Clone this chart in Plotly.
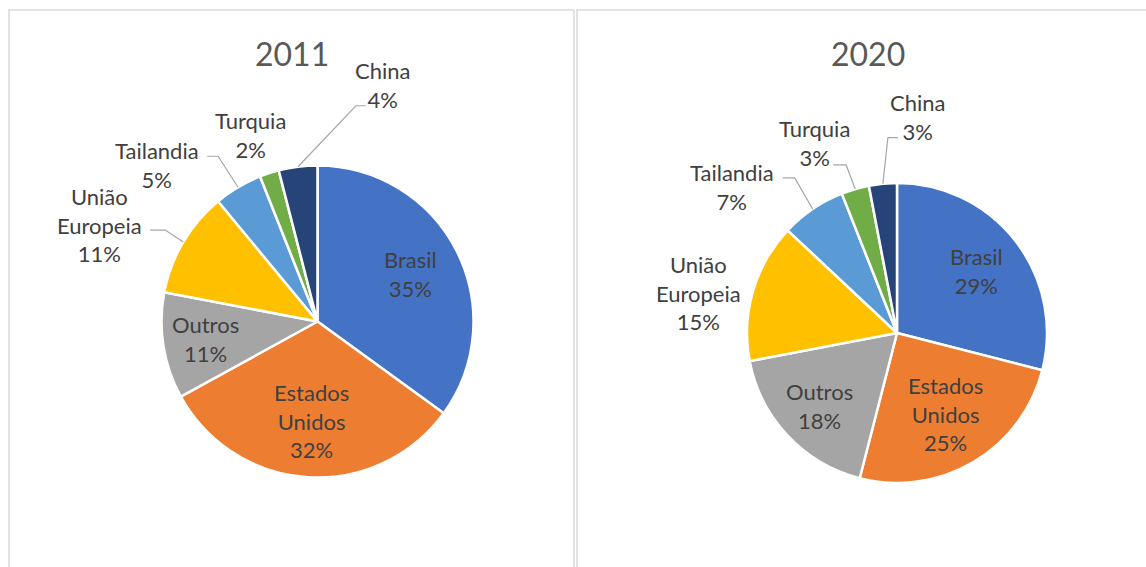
import math
import plotly.graph_objects as go

W, H = 1146, 567

# ---- data ----
categories = ["Brasil", "Estados Unidos", "Outros", "União Europeia", "Tailandia", "Turquia", "China"]
values_2011 = [35, 32, 11, 11, 5, 2, 4]
values_2020 = [29, 25, 18, 15, 7, 3, 3]
years = ["2011", "2020"]

colors = ["#4472C4", "#ED7D31", "#A5A5A5", "#FFC000", "#5B9BD5", "#70AD47", "#264478"]
TITLE_C = "#595959"
LABEL_C = "#404040"
FONT = "Lato"

# ---- layout / styling (pixel geometry) ----
pies = [
    dict(year=years[0], values=values_2011, cx=317.5, cy=321.5, r=156, title_x=291.5,
         inside_frac=[0.67, 0.64, 0.73],
         outside={
             3: dict(lab=(-84, -17), lead=((-18, -12), (-33, -12))),
             4: dict(lab=(-81, -22), lead=((-20, -31), (-31, -31))),
             5: dict(lab=(-19, -38), lead=None),
             6: dict(lab=(85, -82), lead=((58, -61), (68, -61))),
         }),
    dict(year=years[1], values=values_2020, cx=897, cy=333, r=150, title_x=868,
         inside_frac=[0.67, 0.63, 0.71],
         outside={
             3: dict(lab=(-54, 2), lead=None),
             4: dict(lab=(-81, -22), lead=((-18, -31), (-30, -31))),
             5: dict(lab=(-41, -46), lead=((-9, -24), (-22, -24))),
             6: dict(lab=(35, -67), lead=((5, -46), (15, -46))),
         }),
]


def px2paper(x, y):
    return x / W, 1 - y / H


def fmt_label(name):
    return name.replace(" ", "<br>")


fig = go.Figure()
annotations = []
shapes = []

for p in pies:
    vals = p["values"]
    total = sum(vals)
    cx, cy, r = p["cx"], p["cy"], p["r"]
    fig.add_trace(go.Pie(
        labels=categories, values=vals, sort=False, direction="clockwise", rotation=0,
        marker=dict(colors=colors, line=dict(color="white", width=2.5)),
        textinfo="none", hoverinfo="label+percent",
        domain=dict(x=[(cx - r) / W, (cx + r) / W], y=[1 - (cy + r) / H, 1 - (cy - r) / H]),
        showlegend=False,
    ))
    tx, ty = px2paper(p["title_x"], 53.5)
    annotations.append(dict(x=tx, y=ty, xref="paper", yref="paper", text=p["year"],
                            showarrow=False, font=dict(family=FONT, size=32, color=TITLE_C),
                            xanchor="center", yanchor="middle"))
    cum = 0
    for i, v in enumerate(vals):
        mid = (cum + v / 2) / total * 2 * math.pi
        cum += v
        text = f"{fmt_label(categories[i])}<br>{v}%"
        if i < 3:
            fr = p["inside_frac"][i]
            lx = cx + fr * r * math.sin(mid)
            ly = cy - fr * r * math.cos(mid)
        else:
            tipx = cx + r * math.sin(mid)
            tipy = cy - r * math.cos(mid)
            o = p["outside"][i]
            lx, ly = tipx + o["lab"][0], tipy + o["lab"][1]
            if o["lead"] is not None:
                (ex, ey), (hx, hy) = o["lead"]
                pts = [(tipx, tipy), (tipx + ex, tipy + ey), (tipx + hx, tipy + hy)]
                pp = [px2paper(a, b) for a, b in pts]
                path = "M {:.5f},{:.5f} L {:.5f},{:.5f} L {:.5f},{:.5f}".format(
                    pp[0][0], pp[0][1], pp[1][0], pp[1][1], pp[2][0], pp[2][1])
                shapes.append(dict(type="path", xref="paper", yref="paper", path=path,
                                   line=dict(color="#A6A6A6", width=1.2)))
        ax_, ay_ = px2paper(lx, ly)
        annotations.append(dict(x=ax_, y=ay_, xref="paper", yref="paper", text=text,
                                showarrow=False, font=dict(family=FONT, size=22, color=LABEL_C),
                                xanchor="center", yanchor="middle", align="center"))

# panel borders
for (x0, x1) in [(9, 574), (577, 1160)]:
    a0, b0 = px2paper(x0, 10)
    a1, b1 = px2paper(x1, 600)
    shapes.append(dict(type="rect", xref="paper", yref="paper", x0=a0, x1=a1, y0=b1, y1=b0,
                       line=dict(color="#D9D9D9", width=1.5), fillcolor="rgba(0,0,0,0)",
                       layer="below"))

fig.update_layout(
    width=W, height=H, margin=dict(l=0, r=0, t=0, b=0),
    paper_bgcolor="white", plot_bgcolor="white",
    annotations=annotations, shapes=shapes,
    font=dict(family=FONT, color=LABEL_C),
)

fig.write_html("out.html", config={"displayModeBar": False},
               post_script="document.body.style.margin='0';document.body.style.overflow='hidden';")
